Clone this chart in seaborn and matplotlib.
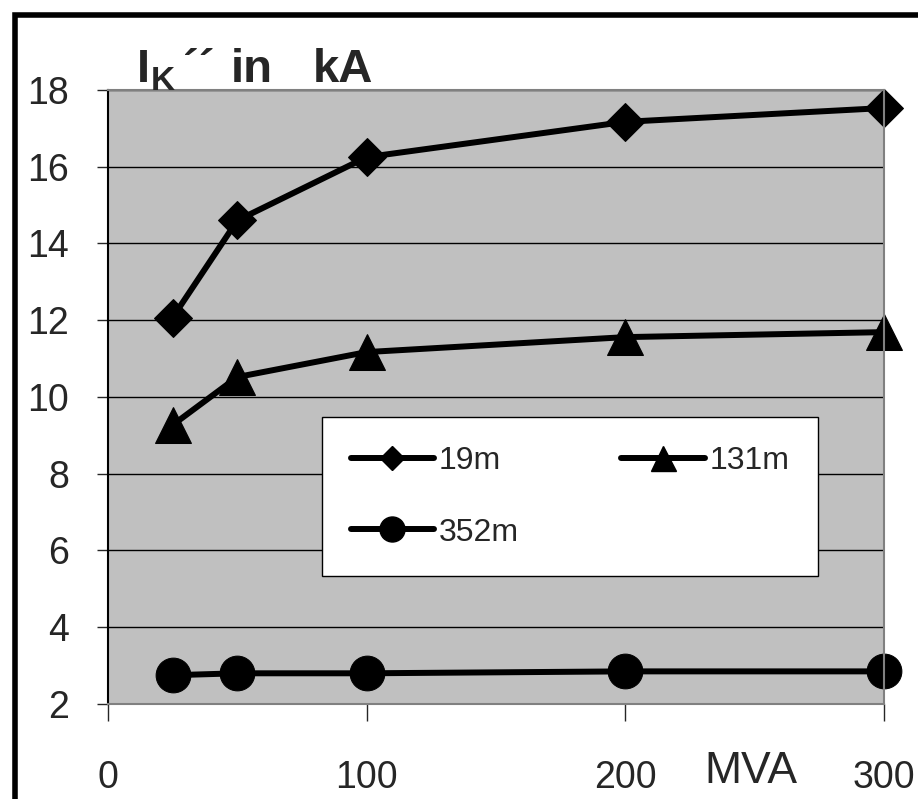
import pandas as pd
import matplotlib.pyplot as plt
import matplotlib.patches as patches
import seaborn as sns

# Kurzschlussstrom abhängig von der Netz-Kurzschlussleistung
mva = [25, 50, 100, 200, 300]
ik_19m = [12.07, 14.6, 16.25, 17.17, 17.53]
ik_131m = [9.27, 10.52, 11.17, 11.56, 11.69]
ik_352m = [2.75, 2.8, 2.8, 2.85, 2.85]
labels = ['19m', '131m', '352m']

df = pd.DataFrame({
    'MVA': mva * 3,
    'Ik': ik_19m + ik_131m + ik_352m,
    'Leitung': [labels[0]] * 5 + [labels[1]] * 5 + [labels[2]] * 5,
})

sns.set_style('white')
plt.rcParams['font.family'] = ['Liberation Sans', 'DejaVu Sans']

fig = plt.figure(figsize=(9.18, 7.99), dpi=100)
ax = fig.add_axes([0.1176, 0.1189, 0.9630 - 0.1176, 0.8874 - 0.1189])
ax.set_facecolor('#c0c0c0')

sns.lineplot(data=df, x='MVA', y='Ik', hue='Leitung', style='Leitung',
             markers={'19m': 'D', '131m': '^', '352m': 'o'}, dashes=False,
             palette=['black'] * 3, linewidth=4.3, markeredgecolor='black',
             legend=False, ax=ax)
# Marker etwas größer (je nach Typ)
for line, ms in zip(ax.lines, [19, 26, 25]):
    line.set_markersize(ms)
    line.set_clip_on(False)

ax.set_xlim(0, 300)
ax.set_ylim(2, 18)
ax.set_xticks([0, 100, 200, 300])
ax.set_yticks(range(2, 19, 2))
ax.yaxis.grid(True, color='black', linewidth=1)
ax.set_axisbelow(True)
ax.tick_params(axis='x', direction='out', length=12, width=1, pad=28,
               labelsize=27, bottom=True)
ax.tick_params(axis='y', direction='out', length=8, width=1, pad=20,
               labelsize=27, left=True)
ax.set_xlabel('')
ax.set_ylabel('')
for s in ['top', 'right', 'bottom']:
    ax.spines[s].set_color('#808080')
    ax.spines[s].set_linewidth(1.5)
ax.spines['left'].set_color('black')
ax.spines['left'].set_linewidth(1.5)

# Legende (zeilenweise: 19m, 131m / 352m)
order = [0, 2, 1]
handles = [plt.Line2D([], [], color='black', lw=4.3, marker=m, markersize=s)
           for m, s in zip(['D', '^', 'o'], [12, 18, 18])]
leg = ax.legend([handles[i] for i in order], [labels[i] for i in order],
                ncol=2, loc='upper left',
                bbox_to_anchor=(0.276, 0.467, 0.639, 0.0), mode='expand',
                fontsize=23, handlelength=2.6, handletextpad=0.15,
                frameon=True, fancybox=False, framealpha=1,
                edgecolor='black', borderpad=0.9, labelspacing=1.3,
                columnspacing=1, borderaxespad=0)
leg.get_frame().set_linewidth(1)

# Achsentitel
fig.text(137 / 918, 1 - 82 / 799, 'I', fontsize=34, fontweight='bold')
fig.text(151 / 918, 1 - 90 / 799, 'K', fontsize=24, fontweight='bold')
fig.text(183 / 918, 1 - 82 / 799, '´´', fontsize=34, fontweight='bold')
fig.text(231 / 918, 1 - 82 / 799, 'in', fontsize=34, fontweight='bold')
fig.text(313 / 918, 1 - 82 / 799, 'kA', fontsize=34, fontweight='bold')
fig.text(704 / 918, 1 - 783 / 799, 'MVA', fontsize=32)

# äußerer Rahmen
fig.patches.append(patches.Rectangle((15 / 918, -0.1), 1.2, 1 - 15 / 799 + 0.1,
                                     transform=fig.transFigure, fill=False,
                                     edgecolor='black', linewidth=4))

fig.savefig('out.png', dpi=100)
